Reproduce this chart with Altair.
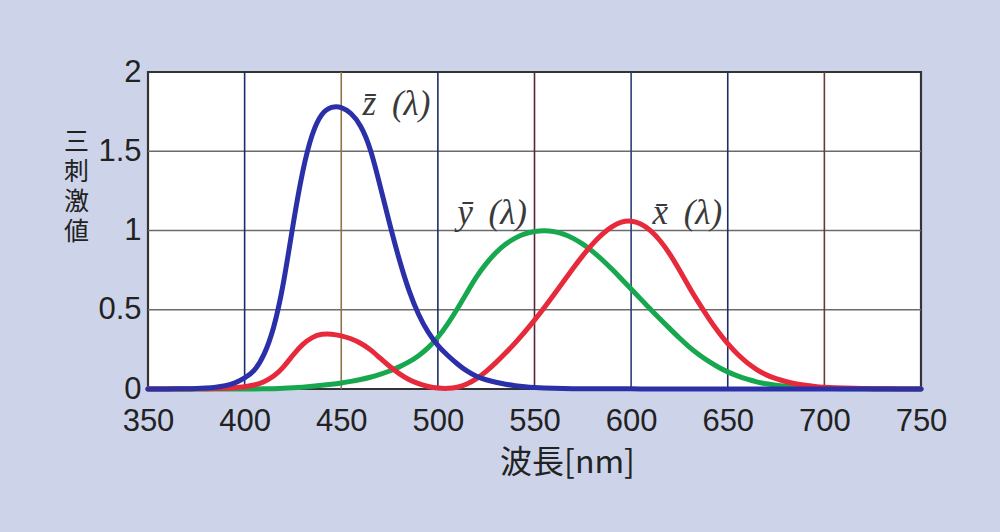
import altair as alt
import pandas as pd

# ---------------- data (CIE 1931 colour-matching shape) ----------------
wavelength = list(range(350, 755, 5))

x_bar = [0.0, 0.0, 0.00013, 0.00023, 0.00042, 0.00074,
         0.00137, 0.00224, 0.00424, 0.00765, 0.01431, 0.02319, 0.04351, 0.07763, 0.13438, 0.21477,
         0.2839, 0.3285, 0.34828, 0.34806, 0.3362, 0.3187, 0.2908, 0.2511, 0.19536, 0.1421,
         0.09564, 0.05795, 0.03201, 0.0147, 0.0049, 0.0024, 0.0093, 0.0291, 0.06327, 0.1096,
         0.1655, 0.22575, 0.2904, 0.3597, 0.43345, 0.51205, 0.5945, 0.6784, 0.7621, 0.8425,
         0.9163, 0.9786, 1.0263, 1.0567, 1.0622, 1.0456, 1.0026, 0.9384, 0.85445, 0.7514,
         0.6424, 0.5419, 0.4479, 0.3608, 0.2835, 0.2187, 0.1649, 0.1212, 0.0874, 0.0636,
         0.04677, 0.0329, 0.0227, 0.01584, 0.01136, 0.00811, 0.00579, 0.00411, 0.0029, 0.00205,
         0.00144, 0.001, 0.00069, 0.00048, 0.00033]

y_bar = [0.0, 0.0, 0.0, 0.0, 0.00001, 0.00002,
         0.000039, 0.000064, 0.00012, 0.000217, 0.000396, 0.00064, 0.00121, 0.00218, 0.004, 0.0073,
         0.0116, 0.01684, 0.023, 0.0298, 0.038, 0.048, 0.06, 0.0739, 0.09098, 0.1126,
         0.13902, 0.1693, 0.20802, 0.2586, 0.323, 0.4073, 0.503, 0.6082, 0.71, 0.7932,
         0.862, 0.91485, 0.954, 0.9803, 0.99495, 1.0, 0.995, 0.9786, 0.952, 0.9154,
         0.87, 0.8163, 0.757, 0.6949, 0.631, 0.5668, 0.503, 0.4412, 0.381, 0.321,
         0.265, 0.217, 0.175, 0.1382, 0.107, 0.0816, 0.061, 0.04458, 0.032, 0.0232,
         0.017, 0.01192, 0.00821, 0.00572, 0.0041, 0.00293, 0.00209, 0.00148, 0.00105, 0.00074,
         0.00052, 0.00036, 0.00025, 0.00017, 0.00012]

z_bar = [0.0, 0.0, 0.00061, 0.00109, 0.00195, 0.00349,
         0.00645, 0.01055, 0.02005, 0.03621, 0.06785, 0.1102, 0.2074, 0.3713, 0.6456, 1.0391,
         1.3856, 1.623, 1.7471, 1.7826, 1.7821, 1.7441, 1.6692, 1.5281, 1.2876, 1.0419,
         0.813, 0.6162, 0.4652, 0.3533, 0.272, 0.2123, 0.1582, 0.1117, 0.0782, 0.0573,
         0.0422, 0.0298, 0.0203, 0.0134, 0.0087, 0.0057, 0.0039, 0.0028, 0.0021, 0.0018,
         0.0017, 0.0014, 0.0011, 0.001, 0.0008, 0.0006, 0.0003, 0.0002, 0.0002, 0.0001,
         0.0, 0.0, 0.0, 0.0, 0.0, 0.0, 0.0, 0.0, 0.0, 0.0,
         0.0, 0.0, 0.0, 0.0, 0.0, 0.0, 0.0, 0.0, 0.0, 0.0,
         0.0, 0.0, 0.0, 0.0, 0.0]

series_names = ["y", "x", "z"]          # drawing order: green, red, blue
series_colors = ["#17a84f", "#e6293b", "#2b30a8"]

label_texts = ["z\u0304\u2009 (\u03bb)", "y\u0304\u2009 (\u03bb)", "x\u0304\u2009 (\u03bb)"]
label_wl = [461, 510, 611]
label_val = [1.80, 1.11, 1.11]

x_ticks = [350, 400, 450, 500, 550, 600, 650, 700, 750]
y_ticks = [0, 0.5, 1, 1.5, 2]

grid_x = [400, 450, 500, 550, 600, 650, 700]
grid_x_colors = ["#1e2c6c", "#8c7648", "#1e2c6c", "#5a2438", "#2a3f78", "#1e2c6c", "#6a3a3a"]
grid_y = [0.5, 1, 1.5]

# ---------------- tables ----------------
values = {"x": x_bar, "y": y_bar, "z": z_bar}
curves = pd.DataFrame(
    [{"wl": w, "v": v, "s": s} for s in series_names for w, v in zip(wavelength, values[s])]
)
vgrid = pd.DataFrame({"wl": grid_x, "c": grid_x_colors})
hgrid = pd.DataFrame({"v": grid_y})
labels = pd.DataFrame({"t": label_texts, "wl": label_wl, "v": label_val})

xscale = alt.Scale(domain=[350, 750], nice=False, zero=False)
yscale = alt.Scale(domain=[0, 2], nice=False)

label_font = "Liberation Sans"

x_axis = alt.Axis(
    values=x_ticks, grid=False, ticks=False, domain=False, labelFlush=False, labelOverlap=False,
    labelFont=label_font, labelFontSize=31, labelColor="#222222", labelPadding=17,
    title="波長[nm]", titleFont="Noto Sans CJK JP", titleFontSize=32, titleFontWeight="normal",
    titleColor="#222222", titleX=419, titleY=73, titleBaseline="middle", titleAlign="center",
)
y_axis = alt.Axis(
    values=y_ticks, format="~g", grid=False, ticks=False, domain=False, labelFlush=False,
    labelOverlap=False,
    labelFont=label_font, labelFontSize=31, labelColor="#222222", labelPadding=7,
    title=["三", "刺", "激", "値"], titleFont="Noto Sans CJK JP", titleFontSize=25,
    titleFontWeight="normal", titleColor="#222222", titleAngle=0, titleAlign="center",
    titleBaseline="top", titleX=-72, titleY=57, titleLineHeight=30,
)

base_x = alt.X("wl:Q", scale=xscale, axis=x_axis)
base_y = alt.Y("v:Q", scale=yscale, axis=y_axis)

h_rules = alt.Chart(hgrid).mark_rule(color="#6b6b6b", strokeWidth=1.6).encode(
    y=alt.Y("v:Q", scale=yscale, axis=y_axis)
)
v_rules = alt.Chart(vgrid).mark_rule(strokeWidth=1.6).encode(
    x=alt.X("wl:Q", scale=xscale, axis=x_axis),
    color=alt.Color("c:N", scale=None, legend=None),
)

line_layers = []
for name, col in zip(series_names, series_colors):
    line_layers.append(
        alt.Chart(curves[curves["s"] == name])
        .mark_line(color=col, strokeWidth=5, interpolate="basis", strokeCap="round")
        .encode(x=base_x, y=base_y)
    )

text_layer = alt.Chart(labels).mark_text(
    font="Liberation Serif", fontStyle="italic", fontSize=35, color="#3a3a3a",
    align="left", baseline="middle",
).encode(x=base_x, y=base_y, text="t:N")

chart = alt.layer(h_rules, v_rules, *line_layers, text_layer).properties(
    width=773, height=317,
    padding={"left": 148, "top": 72, "right": 79, "bottom": 143},
    autosize=alt.AutoSizeParams(type="none"),
    background="#cdd4e9",
).configure_view(fill="white", stroke="#333333", strokeWidth=2.2)

chart.save("out.html", embed_options={"renderer": "svg", "actions": False})
